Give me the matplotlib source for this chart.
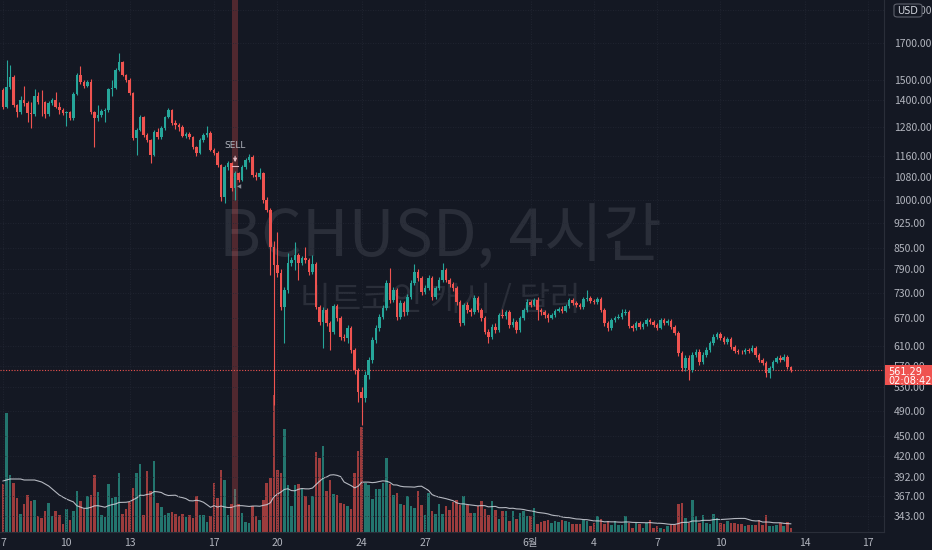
import numpy as np
import pandas as pd
import matplotlib
matplotlib.use('Agg')
import matplotlib.pyplot as plt
from matplotlib.patches import Rectangle, FancyBboxPatch
from matplotlib.ticker import FixedLocator, NullLocator, FormatStrFormatter

# BCHUSD 4h candles, May 7 00:00 -> Jun 13
first_open = 1450
close = [1369, 1465, 1515, 1378, 1346, 1402, 1388, 1341, 1337, 1421,
         1392, 1390, 1337, 1388, 1402, 1369, 1355, 1341, 1346, 1319,
         1431, 1526, 1490, 1470, 1490, 1346, 1319, 1332, 1351, 1355,
         1455, 1460, 1552, 1594, 1526, 1500, 1435, 1233, 1267, 1324,
         1245, 1225, 1164, 1258, 1237, 1275, 1324, 1355, 1297, 1288,
         1280, 1241, 1250, 1237, 1196, 1172, 1225, 1245, 1254, 1184,
         1172, 1125, 1010, 1118, 1133, 1041, 1095, 1070, 1118, 1144,
         1156, 1088, 1080, 1095, 1000, 966, 853, 802, 781, 696,
         737, 808, 816, 830, 808, 821, 816, 783, 805, 696,
         662, 689, 659, 640, 698, 671, 629, 627, 648, 602,
         562, 522, 512, 553, 582, 622, 648, 673, 694, 755,
         713, 737, 673, 705, 684, 720, 755, 783, 768, 732,
         742, 768, 720, 742, 762, 789, 762, 752, 742, 708,
         659, 701, 689, 684, 718, 689, 671, 640, 629, 650,
         644, 677, 675, 684, 655, 662, 644, 671, 689, 708,
         701, 713, 689, 684, 677, 671, 677, 687, 691, 687,
         698, 713, 705, 701, 696, 715, 718, 710, 708, 715,
         689, 659, 648, 666, 671, 673, 682, 684, 653, 648,
         659, 650, 657, 666, 662, 655, 648, 666, 659, 664,
         650, 637, 596, 566, 586, 562, 592, 598, 578, 592,
         602, 616, 629, 635, 627, 618, 625, 608, 600, 598,
         597, 602, 600, 606, 592, 582, 576, 557, 566, 578,
         586, 582, 588, 568, 561.29]
high = [1462, 1605, 1578, 1525, 1384, 1420, 1470, 1396, 1392, 1455,
        1440, 1450, 1398, 1395, 1412, 1440, 1390, 1362, 1352, 1352,
        1440, 1535, 1573, 1498, 1500, 1505, 1352, 1378, 1358, 1362,
        1462, 1500, 1562, 1643, 1600, 1532, 1508, 1440, 1275, 1332,
        1330, 1252, 1230, 1265, 1275, 1282, 1330, 1365, 1360, 1310,
        1295, 1286, 1258, 1256, 1242, 1200, 1232, 1252, 1283, 1260,
        1190, 1178, 1130, 1125, 1140, 1138, 1102, 1100, 1125, 1150,
        1168, 1162, 1098, 1112, 1100, 1008, 972, 870, 897, 790,
        745, 835, 825, 867, 835, 828, 853, 822, 830, 810,
        700, 695, 694, 664, 704, 702, 676, 634, 655, 652,
        606, 566, 530, 560, 588, 628, 655, 680, 700, 762,
        794, 745, 742, 712, 710, 726, 762, 805, 790, 772,
        750, 775, 772, 748, 770, 808, 794, 768, 758, 746,
        712, 706, 708, 694, 725, 722, 694, 675, 645, 656,
        660, 682, 690, 688, 688, 670, 666, 676, 694, 714,
        712, 718, 720, 694, 688, 682, 682, 692, 696, 697,
        703, 718, 717, 710, 705, 720, 737, 722, 714, 719,
        720, 693, 663, 671, 676, 680, 690, 692, 688, 657,
        664, 663, 662, 671, 670, 666, 659, 671, 670, 668,
        668, 654, 641, 600, 591, 592, 597, 604, 603, 597,
        607, 620, 634, 640, 639, 631, 629, 628, 611, 604,
        602, 606, 605, 612, 609, 595, 585, 579, 570, 582,
        590, 592, 593, 591, 570]
low = [1360, 1362, 1455, 1370, 1322, 1338, 1372, 1301, 1275, 1330,
       1385, 1330, 1320, 1330, 1380, 1362, 1335, 1334, 1283, 1310,
       1312, 1425, 1482, 1462, 1463, 1338, 1196, 1305, 1325, 1300,
       1348, 1420, 1455, 1545, 1518, 1490, 1425, 1225, 1164, 1260,
       1238, 1215, 1133, 1158, 1230, 1230, 1268, 1318, 1290, 1270,
       1262, 1235, 1232, 1228, 1188, 1160, 1168, 1218, 1238, 1178,
       1164, 1118, 995, 990, 1105, 1030, 1000, 1062, 1065, 1110,
       1138, 1080, 1070, 1072, 990, 958, 776, 500, 770, 688,
       616, 730, 800, 789, 762, 802, 808, 776, 778, 690,
       655, 606, 652, 602, 635, 664, 622, 620, 616, 595,
       555, 505, 467, 505, 546, 576, 616, 642, 668, 688,
       706, 708, 666, 668, 676, 678, 714, 750, 760, 725,
       726, 736, 713, 714, 736, 756, 756, 745, 735, 700,
       652, 654, 682, 676, 680, 684, 664, 634, 616, 624,
       638, 640, 670, 668, 648, 650, 638, 640, 666, 684,
       696, 698, 666, 678, 670, 662, 667, 673, 683, 682,
       683, 694, 700, 696, 690, 692, 710, 705, 703, 704,
       684, 652, 642, 644, 662, 667, 669, 678, 648, 641,
       644, 646, 646, 653, 658, 650, 644, 645, 654, 655,
       645, 632, 590, 560, 561, 544, 558, 588, 572, 574,
       588, 598, 612, 625, 622, 614, 614, 603, 596, 594,
       593, 594, 596, 597, 588, 578, 572, 550, 548, 562,
       575, 578, 579, 564, 558]
volume = [48, 119, 57, 49, 34, 18, 28, 37, 31, 32,
          16, 14, 21, 29, 16, 21, 17, 8, 23, 12,
          21, 41, 31, 23, 36, 37, 57, 40, 17, 15,
          48, 34, 35, 59, 18, 23, 30, 44, 59, 68,
          17, 61, 41, 71, 29, 25, 17, 19, 20, 18,
          16, 18, 15, 17, 14, 36, 17, 17, 10, 16,
          49, 34, 62, 52, 17, 28, 43, 28, 19, 10,
          9, 26, 16, 12, 32, 49, 54, 137, 62, 59,
          103, 47, 26, 47, 48, 43, 36, 27, 36, 80,
          74, 86, 41, 52, 38, 37, 29, 28, 26, 23,
          59, 81, 105, 49, 47, 33, 43, 43, 49, 74,
          48, 37, 39,
          28, 27, 36, 26, 24, 41, 27, 17, 39, 21,
          18, 28, 18, 26, 22, 30, 32, 27, 36, 27,
          19, 19, 26, 31, 23, 17, 31, 22, 13, 21,
          21, 11, 21, 13, 19, 21, 16, 16, 24, 8,
          10, 11, 12, 9, 11, 10, 12, 11, 10, 8,
          8, 8, 12, 11, 6, 9, 16, 13, 8, 11,
          7, 11, 7, 7, 16, 9, 4, 9, 8, 4,
          9, 12, 4, 6, 4, 3, 6, 7, 7, 28,
          29, 14, 9, 32, 16, 9, 17, 9, 8, 18,
          14, 9, 8, 11, 9, 9, 8, 8, 6, 7,
          7, 7, 12, 7, 17, 6, 6, 7, 9, 6,
          10, 4]
# volume MA(20) for the first bars, whose window reaches before the visible range
vol_ma_head = [51, 52, 53, 53, 53, 53, 52, 52, 52, 52,
               51, 50, 48, 46, 43, 40, 37, 35, 33]

price_ticks = [343, 367, 392, 420, 450, 490, 530, 570, 610, 670, 730, 790,
               850, 925, 1000, 1080, 1160, 1280, 1400, 1500, 1700, 1900]
day_offsets = [0, 3, 6, 10, 13, 17, 20, 25, 28, 31, 34, 38, 41]
day_labels = ['7', '10', '13', '17', '20', '24', '27', '6월', '4', '7', '10', '14', '17']
sell_bar = 66
countdown = '02:08:42'
BARS_PER_DAY = 6

# Style
BG = '#141823'
UP = '#26a69a'
DOWN = '#ef5350'
VOL_UP = '#23756e'
VOL_DOWN = '#9c3c3d'
GRID = '#242835'
TEXT = '#b2b5be'
WATERMARK = '#2a2e39'
W, H, DPI = 932, 550, 100

plt.rcParams['font.family'] = ['Noto Sans CJK KR', 'DejaVu Sans']

c = np.array(close, dtype=float)
o = np.concatenate([[first_open], c[:-1]])
hi = np.array(high, dtype=float)
lo = np.array(low, dtype=float)
vol = np.array(volume, dtype=float)
x = np.arange(len(c))
up = c >= o
vol_ma = pd.Series(vol).rolling(20).mean().to_numpy()
vol_ma[:len(vol_ma_head)] = vol_ma_head

fig = plt.figure(figsize=(W / DPI, H / DPI), dpi=DPI, facecolor=BG)
pos = [0, 18 / H, 884 / W, 532 / H]
xlim = (-0.85, 250.5)

# volume pane underneath
axv = fig.add_axes(pos, facecolor=BG)
axv.bar(x, vol, width=0.72, color=np.where(up, VOL_UP, VOL_DOWN), linewidth=0)
axv.plot(x, vol_ma, color='#d1d4dc', lw=0.8, alpha=0.85)
axv.set_xlim(*xlim)
axv.set_ylim(0, 532)
axv.axis('off')

ax = fig.add_axes(pos, facecolor='none')
ax.set_yscale('log')
ax.set_xlim(*xlim)
ax.set_ylim(325, 1966)

tick_x = [d * BARS_PER_DAY for d in day_offsets]
ax.xaxis.set_major_locator(FixedLocator(tick_x))
ax.set_xticklabels(day_labels)
ax.yaxis.tick_right()
ax.yaxis.set_major_locator(FixedLocator(price_ticks))
ax.yaxis.set_minor_locator(NullLocator())
ax.yaxis.set_major_formatter(FormatStrFormatter('%.2f'))
ax.tick_params(axis='y', length=0, pad=7, labelsize=7.5, labelcolor=TEXT)
ax.tick_params(axis='x', length=0, pad=4, labelsize=7.5, labelcolor=TEXT)
ax.grid(True, color=GRID, lw=0.6, ls=(0, (1, 2)))
for side in ['top', 'left']:
    ax.spines[side].set_visible(False)
for side in ['right', 'bottom']:
    ax.spines[side].set_color('#2a2e39')

# watermark
ax.text(0.498, 0.553, 'BCHUSD, 4시간', transform=ax.transAxes, ha='center', va='center',
        fontsize=46, color=WATERMARK, zorder=0)
ax.text(0.498, 0.435, '비트코인 캐시 / 달러', transform=ax.transAxes, ha='center', va='center',
        fontsize=24, color=WATERMARK, zorder=0)

# sell signal band + marker
ax.axvspan(sell_bar - 0.75, sell_bar + 0.75, color=DOWN, alpha=0.28, lw=0, zorder=1)
ax.text(sell_bar, 1200, 'SELL', ha='center', va='center', fontsize=6.5, color=TEXT, zorder=5,
        family='DejaVu Sans')
ax.annotate('', xy=(sell_bar, 1125), xytext=(sell_bar, 1170),
            arrowprops=dict(arrowstyle='-|>', color='#e0b8c0', lw=0.8, mutation_scale=5), zorder=5)
ax.plot([sell_bar - 0.9, sell_bar + 0.9], [1122, 1122], color='#e0b8c0', lw=0.8, zorder=5)
ax.text(sell_bar + 0.6, 1046, '◀', ha='left', va='center', fontsize=4, color='#8a8d96', zorder=5,
        family='DejaVu Sans')

# candles
colors = np.where(up, UP, DOWN)
ax.vlines(x, lo, hi, colors=colors, lw=0.8, zorder=3)
body = np.maximum(np.abs(c - o), np.minimum(o, c) * 0.0015)
ax.bar(x, body, bottom=np.minimum(o, c), width=0.72, color=colors, linewidth=0, zorder=4)

# last price line + label (box covers the nearby axis labels, as on the platform)
last = c[-1]
ax.axhline(last, color=DOWN, lw=0.8, ls=(0, (1, 1.5)), zorder=2)
fig.canvas.draw()
_, py = ax.transData.transform((0, last))
fig.patches.append(Rectangle((885 / W, (py - 15) / H), 47 / W, 20 / H,
                             transform=fig.transFigure, facecolor=DOWN, edgecolor='none'))
fig.text(888 / W, (py - 1.5) / H, f'{last:.2f}', fontsize=7, color='white', va='center',
         family='DejaVu Sans')
fig.text(888 / W, (py - 10.5) / H, countdown, fontsize=7, color='white', va='center',
         family='DejaVu Sans')

# currency badge
fig.patches.append(FancyBboxPatch((894 / W, (H - 17) / H), 28 / W, 13 / H,
                                  boxstyle='round,pad=0,rounding_size=0.004',
                                  transform=fig.transFigure, facecolor=BG, edgecolor='#5d606b', lw=0.8))
fig.text(908 / W, (H - 10.5) / H, 'USD', fontsize=7, color='#d1d4dc', ha='center', va='center',
         family='DejaVu Sans')

fig.savefig('out.png', dpi=DPI, facecolor=BG)
